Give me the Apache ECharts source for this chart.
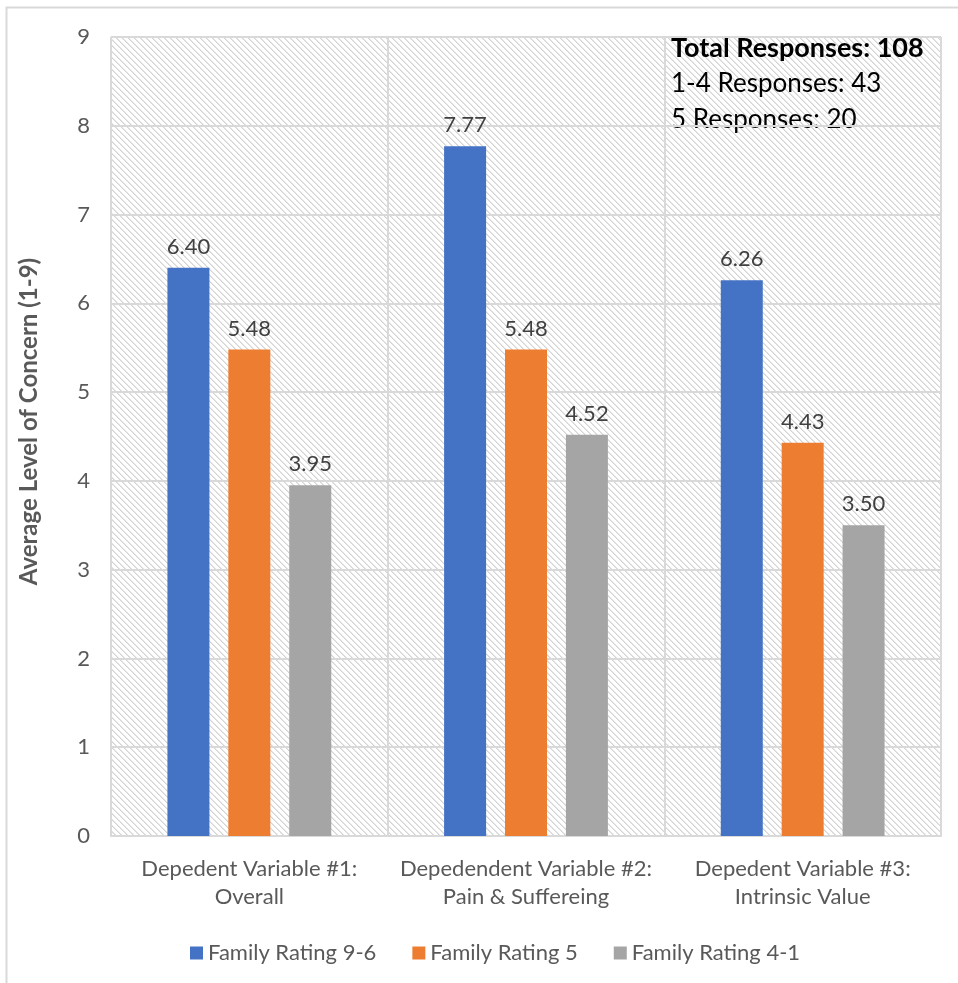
<!DOCTYPE html>
<html>
<head>
<meta charset="utf-8">
<script src="https://cdn.jsdelivr.net/npm/echarts@6/dist/echarts.min.js"></script>
<style>
  html, body { margin: 0; padding: 0; background: #fff; }
  #chart { width: 958px; height: 983px; }
</style>
</head>
<body>
<div id="chart"></div>
<script>
const categories = ['Depedent Variable #1:\nOverall', 'Depedendent Variable #2:\nPain & Suffereing', 'Depedent Variable #3:\nIntrinsic Value'];
const rating96 = [6.40, 7.77, 6.26];
const rating5 = [5.48, 5.48, 4.43];
const rating41 = [3.95, 4.52, 3.50];
const seriesNames = ['Family Rating 9-6', 'Family Rating 5', 'Family Rating 4-1'];
const noteLines = ['Total Responses: 108', '1-4 Responses: 43', '5 Responses: 20'];

const FONT = 'Lato, "Open Sans", sans-serif';

// hatch tile for plot background (downward diagonal)
function hatchTile() {
	const c = document.createElement('canvas');
	c.width = 6; c.height = 6;
	const ctx = c.getContext('2d');
	ctx.fillStyle = '#fff';
	ctx.fillRect(0, 0, 6, 6);
	for (let y = 0; y < 6; y++) {
		ctx.fillStyle = '#d4d4d4';
		ctx.fillRect(y, y, 1, 1);
		ctx.fillStyle = '#e6e6e6';
		ctx.fillRect((y + 1) % 6, y, 1, 1);
	}
	return c;
}

function initChart() {
	let myChart = echarts.init(document.getElementById('chart'));
	const colorList = ['#4472C4', '#ED7D31', '#A5A5A5'];
	const dataList = [rating96, rating5, rating41];

	let series = dataList.map(function (d, i) {
		return {
			name: seriesNames[i],
			type: 'bar',
			data: d,
			barWidth: 42,
			barGap: '45%',
			itemStyle: { color: colorList[i] },
			label: {
				show: true,
				position: 'top',
				distance: 10,
				color: '#404040',
				fontSize: 22,
				fontFamily: FONT,
				formatter: function (p) { return p.value.toFixed(2); }
			}
		};
	});

	let option = {
		animation: false,
		color: colorList,
		grid: {
			left: 111,
			right: 17,
			top: 37,
			bottom: 147,
			show: true,
			borderWidth: 0,
			backgroundColor: { image: hatchTile(), repeat: 'repeat' }
		},
		legend: {
			left: 185,
			top: 937,
			itemWidth: 13,
			itemHeight: 13,
			itemGap: 36,
			icon: 'rect',
			textStyle: { color: '#595959', fontSize: 22, fontFamily: FONT },
			data: seriesNames
		},
		xAxis: {
			type: 'category',
			data: categories,
			axisLine: { show: true, lineStyle: { color: '#d9d9d9', width: 2 } },
			axisTick: { show: false },
			splitLine: { show: true, interval: 0, lineStyle: { color: '#d9d9d9', width: 2 } },
			axisLabel: {
				interval: 0,
				color: '#595959',
				fontSize: 22,
				fontFamily: FONT,
				lineHeight: 28,
				margin: 19
			}
		},
		yAxis: {
			type: 'value',
			min: 0,
			max: 9,
			interval: 1,
			name: 'Average Level of Concern (1-9)',
			nameLocation: 'middle',
			nameGap: 70,
			nameTextStyle: { color: '#595959', fontSize: 24, fontWeight: 'bold', fontFamily: FONT, padding: [0, 0, 0, 30] },
			axisLine: { show: false },
			axisTick: { show: false },
			splitLine: { lineStyle: { color: '#d9d9d9', width: 2 } },
			axisLabel: { color: '#595959', fontSize: 22, fontFamily: FONT, margin: 21 }
		},
		graphic: [
			{
				type: 'rect',
				shape: { x: 6.5, y: 7.5, width: 1000, height: 1000 },
				style: { fill: 'none', stroke: '#d9d9d9', lineWidth: 2 },
				silent: true
			},
			{
				type: 'text', left: 671, top: 35,
				style: { text: noteLines[0], fill: '#000', font: 'bold 27px ' + FONT }
			},
			{
				type: 'text', left: 671, top: 71,
				style: { text: noteLines[1], fill: '#000', font: '26px ' + FONT }
			},
			{
				type: 'text', left: 671, top: 107,
				style: { text: noteLines[2], fill: '#000', font: '26px ' + FONT }
			}
		],
		series: series
	};

	myChart.setOption(option);
	return myChart;
}

initChart();
</script>
</body>
</html>
